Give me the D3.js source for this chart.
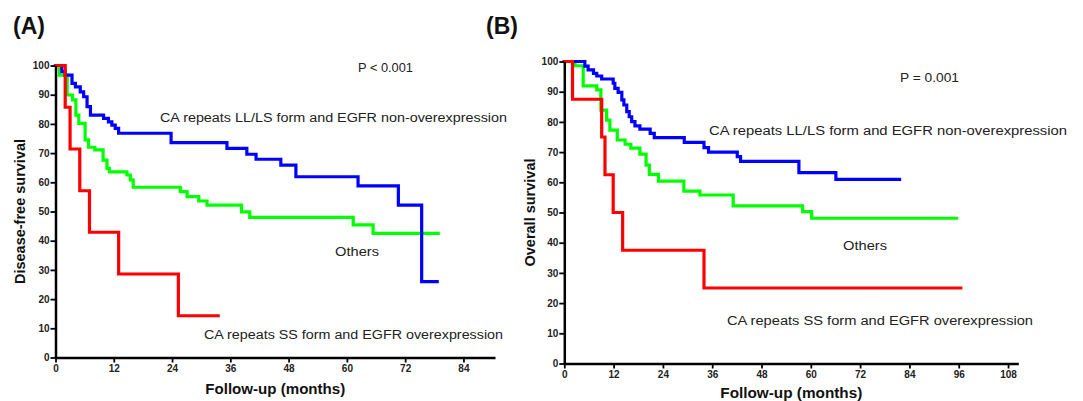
<!DOCTYPE html>
<html><head><meta charset="utf-8">
<script src="https://cdn.jsdelivr.net/npm/d3@7"></script>
<style>
html,body{margin:0;padding:0;background:#fff;}
svg{display:block;font-family:"Liberation Sans",Arial,sans-serif;}
.tick text{font-family:"Liberation Sans Narrow","Liberation Sans",Arial,sans-serif;font-weight:bold;font-size:10px;fill:#222;}
</style></head>
<body>
<svg id="c" width="1083" height="401"></svg>
<script>
// ---------- Data (months, survival %) ----------
const xTicksA = [0, 12, 24, 36, 48, 60, 72, 84];
const xTicksB = [0, 12, 24, 36, 48, 60, 72, 84, 96, 108];
const yTicks = [0, 10, 20, 30, 40, 50, 60, 70, 80, 90, 100];

// Panel A: disease-free survival
const A_blueT = [0, 1.3, 2.0, 3.4, 4.1, 5.1, 5.8, 6.5, 7.2, 9.9, 10.9, 11.6, 12.3, 13.0, 23.8, 35.3, 39.4, 41.3, 46.4, 49.5, 62.3, 70.6, 75.4, 78.6];
const A_blueS = [100, 97.9, 96.7, 93.9, 92.7, 91.0, 89.3, 85.9, 83.0, 81.9, 80.7, 79.6, 78.5, 76.8, 73.6, 71.6, 69.6, 67.9, 65.9, 61.9, 58.8, 52.2, 26.0, 26.0];
const A_greenT = [0, 0.8, 2.4, 3.5, 4.2, 4.8, 6.1, 6.8, 8.1, 9.8, 10.6, 11.1, 14.7, 15.4, 16.0, 25.7, 27.1, 29.5, 31.2, 38.3, 40.0, 61.3, 65.4, 78.8];
const A_greenS = [100, 96.7, 89.9, 88.2, 83.0, 80.2, 74.5, 72.0, 71.1, 67.6, 64.8, 63.6, 62.5, 60.8, 58.3, 56.8, 55.1, 53.6, 52.2, 49.9, 48.0, 45.4, 42.5, 42.5];
const A_redT = [0, 2.0, 3.0, 5.0, 7.0, 13.0, 25.3, 33.5];
const A_redS = [100, 85.7, 71.4, 57.1, 42.9, 28.6, 14.3, 14.3];

// Panel B: overall survival
const B_blueT = [0, 5.0, 5.8, 7.1, 7.9, 9.1, 11.9, 12.3, 13.1, 14.0, 14.5, 15.2, 15.8, 16.4, 17.2, 18.4, 20.9, 21.9, 29.2, 34.0, 35.1, 42.1, 42.9, 57.1, 66.1, 81.6];
const B_blueS = [100, 98.5, 97.2, 96.1, 95.2, 94.2, 92.8, 91.1, 89.8, 87.3, 85.6, 83.4, 81.7, 80.1, 78.7, 77.6, 76.2, 74.8, 73.2, 71.5, 70.0, 68.5, 66.9, 63.2, 61.0, 61.0];
const B_greenT = [0, 2.6, 4.6, 7.9, 8.9, 10.3, 11.1, 12.9, 14.8, 16.2, 18.4, 19.9, 20.7, 22.9, 29.1, 33.0, 41.1, 58.0, 60.2, 95.5];
const B_greenS = [100, 98.6, 91.9, 90.6, 83.9, 80.6, 77.3, 74.0, 72.6, 71.3, 69.3, 65.7, 62.6, 60.4, 57.1, 55.8, 52.2, 50.3, 48.1, 48.1];
const B_redT = [0, 2.0, 9.1, 9.9, 11.9, 14.2, 34.0, 96.5];
const B_redS = [100, 87.5, 75.0, 62.5, 50.0, 37.5, 25.0, 25.0];

const svg = d3.select("#c");

function panel(cfg) {
  const x = d3.scaleLinear().domain(cfg.xDomain).range(cfg.xRange);
  const y = d3.scaleLinear().domain([0, 100]).range(cfg.yRange);
  const g = svg.append("g");

  const line = d3.line().curve(d3.curveStepAfter).x(d => x(d[0])).y(d => y(d[1]));
  cfg.series.forEach(s => {
    const pts = s.t.map((t, i) => [t, s.s[i]]);
    g.append("path").datum(pts).attr("d", line)
      .attr("fill", "none").attr("stroke", s.color).attr("stroke-width", 3.2)
      .attr("stroke-linejoin", "miter").attr("stroke-linecap", "square");
  });

  const xa = g.append("g").attr("transform", `translate(0,${cfg.yRange[0]})`)
    .call(d3.axisBottom(x).tickValues(cfg.xTicks).tickSize(5).tickSizeOuter(0).tickPadding(2));
  const ya = g.append("g").attr("transform", `translate(${cfg.xRange[0]},0)`)
    .call(d3.axisLeft(y).tickValues(yTicks).tickSize(5).tickSizeOuter(0).tickPadding(1));
  [xa, ya].forEach(a => {
    a.select(".domain").attr("stroke", "#000").attr("stroke-width", 2.5);
    a.selectAll(".tick line").attr("stroke", "#000").attr("stroke-width", 1.8);
  });

  // axis titles
  g.append("text").attr("x", (cfg.xRange[0] + cfg.xRange[1]) / 2).attr("y", cfg.xTitleY)
    .attr("text-anchor", "middle").attr("font-weight", "bold").attr("font-size", 15)
    .attr("fill", "#111").attr("textLength", cfg.xTitleW).attr("lengthAdjust", "spacingAndGlyphs")
    .text("Follow-up (months)");
  g.append("text").attr("transform", `translate(${cfg.yTitleX},${(cfg.yRange[0] + cfg.yRange[1]) / 2}) rotate(-90)`)
    .attr("text-anchor", "middle").attr("font-weight", "bold").attr("font-size", 14.5)
    .attr("fill", "#111").text(cfg.yTitle);

  // panel label
  g.append("text").attr("x", cfg.labelX).attr("y", 34).attr("font-weight", "bold")
    .attr("font-size", 23).attr("fill", "#111").text(cfg.label);

  // annotations
  cfg.notes.forEach(n => {
    g.append("text").attr("x", n.x).attr("y", n.y).attr("font-size", 12.5).attr("fill", "#222")
      .attr("textLength", n.w).attr("lengthAdjust", "spacingAndGlyphs").text(n.text);
  });
}

panel({
  xDomain: [0, 90.5], xRange: [55.5, 495], yRange: [357.5, 65.5], xTicks: xTicksA,
  xTitleY: 394, xTitleW: 140, yTitleX: 25, yTitle: "Disease-free survival", label: "(A)", labelX: 13,
  series: [
    {t: A_greenT, s: A_greenS, color: "#00ff00"},
    {t: A_blueT, s: A_blueS, color: "#0000ff"},
    {t: A_redT, s: A_redS, color: "#ff0000"}
  ],
  notes: [
    {text: "P < 0.001", x: 358, y: 71.5, w: 55},
    {text: "CA repeats LL/LS form and EGFR non-overexpression", x: 160, y: 121.5, w: 347},
    {text: "Others", x: 335, y: 255.5, w: 44},
    {text: "CA repeats SS form and EGFR overexpression", x: 204, y: 338.5, w: 299}
  ]
});

panel({
  xDomain: [0, 110.5], xRange: [564.3, 1018.3], yRange: [363.5, 61.5], xTicks: xTicksB,
  xTitleY: 398, xTitleW: 142, yTitleX: 535, yTitle: "Overall survival", label: "(B)", labelX: 486,
  series: [
    {t: B_greenT, s: B_greenS, color: "#00ff00"},
    {t: B_blueT, s: B_blueS, color: "#0000ff"},
    {t: B_redT, s: B_redS, color: "#ff0000"}
  ],
  notes: [
    {text: "P = 0.001", x: 900, y: 81.5, w: 59},
    {text: "CA repeats LL/LS form and EGFR non-overexpression", x: 709, y: 134.5, w: 358},
    {text: "Others", x: 843, y: 249.5, w: 44},
    {text: "CA repeats SS form and EGFR overexpression", x: 727, y: 324.5, w: 306}
  ]
});
</script>
</body></html>
